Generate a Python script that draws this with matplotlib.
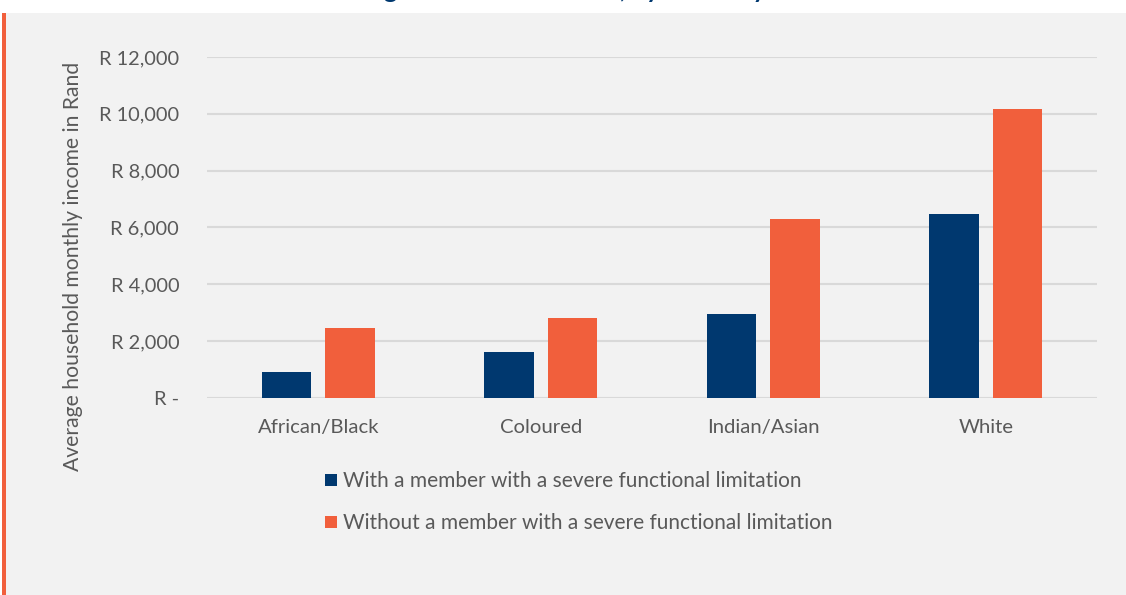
import matplotlib
matplotlib.use("Agg")
import matplotlib.pyplot as plt
from matplotlib.patches import Rectangle, Patch
import numpy as np

categories = ["African/Black", "Coloured", "Indian/Asian", "White"]
with_limitation = [905, 1610, 2965, 6475]
without_limitation = [2450, 2805, 6300, 10185]
series_labels = ["With a member with a severe functional limitation",
                 "Without a member with a severe functional limitation"]
yticks = [0, 2000, 4000, 6000, 8000, 10000, 12000]
ytick_labels = ["R -", "R 2,000", "R 4,000", "R 6,000", "R 8,000", "R 10,000", "R 12,000"]
title = "Average household income, by disability status"

NAVY = "#00386F"
ORANGE = "#F15F3C"
GREY_TXT = "#595959"
BG = "#F2F2F2"

plt.rcParams['font.family'] = ['Lato', 'DejaVu Sans']

W, H = 1126, 595
fig = plt.figure(figsize=(W/100, H/100), dpi=100)
fig.patch.set_facecolor("white")

# background panel and orange stripe
fig.patches.append(Rectangle((6/W, 0), 1 - 6/W, 1 - 13/H, transform=fig.transFigure,
                             facecolor=BG, edgecolor="none", zorder=-10))
fig.patches.append(Rectangle((2/W, 0), 4/W, 1 - 13/H, transform=fig.transFigure,
                             facecolor=ORANGE, edgecolor="none", zorder=-9))

# clipped title (only descenders visible)
fig.text(318/W, 1 + 1.5/H, title, ha="left", va="baseline", fontsize=18,
         fontweight="bold", color=NAVY)

left, right = 207/W, 1097/W
bottom, top = 1 - 397.7/H, 1 - 57/H
ax = fig.add_axes([left, bottom, right - left, top - bottom])
ax.set_facecolor("none")

x = np.arange(len(categories)) + 0.5
bw = 0.223
off = 0.1425
ax.bar(x - off, with_limitation, bw, color=NAVY, zorder=3, label=series_labels[0])
ax.bar(x + off, without_limitation, bw, color=ORANGE, zorder=3, label=series_labels[1])

ax.set_xlim(0, len(categories))
ax.set_ylim(0, 12000)
ax.set_yticks(yticks)
ax.set_yticklabels(ytick_labels)
ax.set_xticks(x)
ax.set_xticklabels(categories)
ax.tick_params(axis="y", length=0, pad=20, labelsize=14.4, labelcolor=GREY_TXT)
ax.tick_params(axis="x", length=0, pad=15, labelsize=14.6, labelcolor=GREY_TXT)
for s in ax.spines.values():
    s.set_visible(False)
ax.yaxis.grid(True, color="#D9D9D9", linewidth=1.5, zorder=0)
ax.set_axisbelow(True)

fig.text(73/W, 1 - 266/H, "Average household monthly income in Rand", rotation=90,
         ha="center", va="center", fontsize=15.2, color=GREY_TXT)

handles = [Patch(facecolor=NAVY, edgecolor="none"), Patch(facecolor=ORANGE, edgecolor="none")]
leg = fig.legend(handles, series_labels, loc="upper left",
                 bbox_to_anchor=(317/W, 1 - 463/H), frameon=False,
                 fontsize=15, handlelength=0.55, handleheight=0.55,
                 handletextpad=0.3, labelspacing=1.05, borderaxespad=0)
for t in leg.get_texts():
    t.set_color(GREY_TXT)

fig.savefig("out.png", dpi=100, facecolor=fig.get_facecolor())
